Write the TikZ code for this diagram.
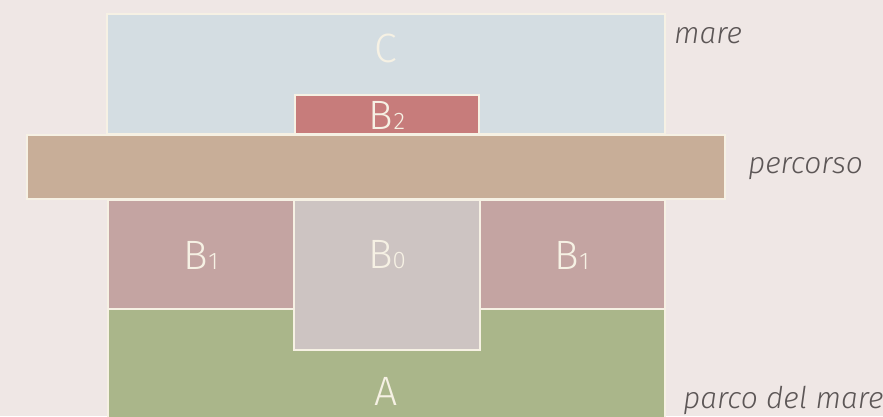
\documentclass[tikz,border=0pt]{standalone}
\usepackage{fontspec}
\setmainfont{Fira Sans}[UprightFont=* Light, ItalicFont=* Light Italic]
\usetikzlibrary{positioning}

\definecolor{paper}{RGB}{239,231,229}
\definecolor{seablue}{RGB}{212,221,226}
\definecolor{bredtwo}{RGB}{199,124,123}
\definecolor{pathtan}{RGB}{200,174,152}
\definecolor{bpinkone}{RGB}{196,164,162}
\definecolor{bgreyzero}{RGB}{205,196,194}
\definecolor{parkgreen}{RGB}{170,182,138}
\definecolor{edge}{RGB}{246,241,228}
\definecolor{labelgrey}{RGB}{92,86,86}

\newcommand{\bzone}[1]{B{\fontsize{24}{24}\selectfont #1}}

\begin{document}
\begin{tikzpicture}[x=1pt, y=-1pt,
    zone/.style={draw=edge, line width=1.2pt, inner sep=0pt, outer sep=0pt, anchor=north west},
    tag/.style={text=edge, font=\fontsize{41}{41}\selectfont, inner sep=0pt},
    side/.style={text=labelgrey, font=\fontsize{30}{30}\selectfont\itshape, anchor=base west, inner sep=0pt}]
    \useasboundingbox (0,0) rectangle (883,416);
    \fill[paper] (0,0) rectangle (883,416);
    \clip (0,0) rectangle (883,416);

    % Sea and upper band
    \node[zone, fill=seablue, minimum width=558pt, minimum height=120pt] (mare) at (107,14) {};
    \node[zone, fill=bredtwo, minimum width=184pt, minimum height=39pt] (btwo) at (295,95) {};

    % Path
    \node[zone, fill=pathtan, minimum width=698pt, minimum height=64pt] (percorso) at (27,135) {};

    % Middle bands
    \node[zone, fill=bpinkone, minimum width=186pt, minimum height=109pt] (boneL) at (108,200) {};
    \node[zone, fill=bpinkone, minimum width=185pt, minimum height=109pt] (boneR) at (480,200) {};

    % Park
    \node[zone, fill=parkgreen, minimum width=557pt, minimum height=120pt] (parco) at (108,309) {};
    \node[zone, fill=bgreyzero, minimum width=186pt, minimum height=150pt] (bzero) at (294,200) {};

    % Zone letters
    \node[tag] (tC) at (386,48) {C};
    \node[tag] (tBtwo) at (387,115) {\bzone{2}};
    \node[tag] (tBoneL) at (201,255) {\bzone{1}};
    \node[tag] (tBzero) at (387,255) {\bzone{0}};
    \node[tag] (tBoneR) at (572,255) {\bzone{1}};
    \node[tag] (tA) at (386,391) {A};

    % Side labels
    \node[side] (lmare) at (674,43) {mare};
    \node[side] (lpercorso) at (748,173) {percorso};
    \node[side] (lparco) at (683,408) {parco del mare};
\end{tikzpicture}
\end{document}
